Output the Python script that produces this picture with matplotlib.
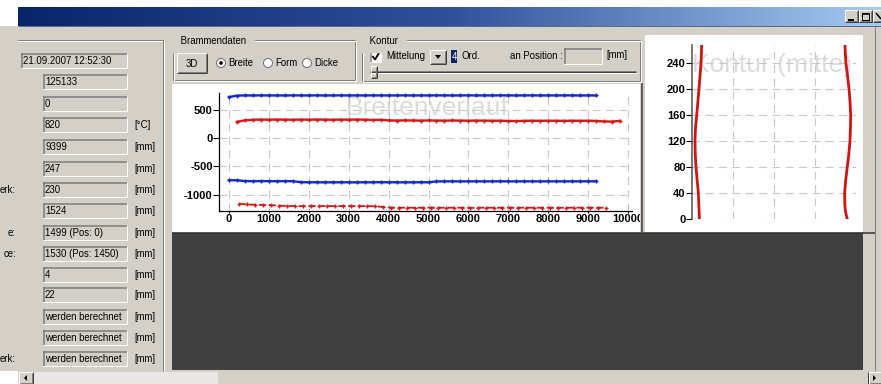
import numpy as np
import matplotlib
matplotlib.use("Agg")
import matplotlib.pyplot as plt
from matplotlib.patches import Rectangle, Circle, Polygon
from matplotlib.colors import LinearSegmentedColormap
from matplotlib.transforms import Bbox, TransformedBbox

plt.rcParams['font.family'] = ['Liberation Sans', 'DejaVu Sans']
plt.rcParams['axes.unicode_minus'] = False

# ---------------- data ----------------
field_values = ["21.09.2007 12:52:30", "125133", "0", "820", "9399", "247", "230",
                "1524", "1499 (Pos: 0)", "1530 (Pos: 1450)", "4", "22",
                "werden berechnet", "werden berechnet", "werden berechnet"]
field_units = ["", "", "", "[\u00b0C]", "[mm]", "[mm]", "[mm]", "[mm]", "[mm]", "[mm]",
               "[mm]", "[mm]", "[mm]", "[mm]", "[mm]"]
field_labels = ["", "", "", "", "", "", "erk:", "", "e:", "ce:", "", "", "", "", "erk:"]

breite_title = "Breitenverlauf"
kontur_title = "Kontur (mitte)"

x_ticks1 = [0, 1000, 2000, 3000, 4000, 5000, 6000, 7000, 8000, 9000, 10000]
y_ticks1 = [-1000, -500, 0, 500]

# upper blue edge (start 0, step 200)
blue_top = [722, 748, 751, 750, 752, 750, 751, 750, 752, 751, 750, 752, 750, 751, 752, 750,
            751, 750, 752, 751, 750, 751, 752, 750, 751, 750, 752, 751, 750, 751, 752, 750,
            751, 750, 752, 751, 750, 751, 752, 750, 751, 750, 752, 751, 750, 751, 750]
# upper red edge (start 200, step 200)
red_top = [285, 312, 322, 325, 323, 326, 324, 322, 325, 323,
           326, 324, 322, 325, 323, 326, 324, 318, 322, 310,
           308, 311, 309, 307, 310, 308, 306, 309, 307, 305,
           308, 306, 304, 306, 300, 298, 302, 305, 303, 306,
           304, 302, 305, 303, 306, 300, 292, 290, 302]
# lower blue edge (start 0, step 200)
blue_bot = [-745, -746, -760, -762, -761, -762, -763, -761, -762,
            -780, -782, -781, -783, -782, -781, -782, -783, -781, -782, -780, -782, -781,
            -783, -782, -781, -782, -766,
            -765, -764, -766, -765, -764, -766, -765, -764, -765, -766, -764, -765, -766,
            -764, -765, -766, -764, -765, -764, -765]
# lower red edge (start 250, step 200)
red_bot = [-1160, -1172, -1178, -1180, -1185, -1195, -1198, -1200, -1202, -1199,
           -1201, -1200, -1203, -1199, -1201, -1200, -1202, -1205, -1215, -1228,
           -1230, -1229, -1231, -1230, -1228, -1230, -1231, -1229, -1230, -1232,
           -1230, -1229, -1231, -1230, -1228, -1230, -1229, -1231, -1230, -1229,
           -1230, -1231, -1229, -1230, -1228, -1230, -1229]

kontur_y = [0, 10, 20, 40, 60, 80, 100, 120, 140, 160, 180, 200, 220, 240, 255, 266]
kontur_left = [-728, -730, -733, -738, -750, -761, -768, -771, -766, -754, -743, -732,
               -722, -712, -708, -706]
kontur_right = [715, 699, 692, 689, 700, 715, 730, 741, 746, 748, 742, 732, 718, 702,
                696, 693]
y_ticks2 = [0, 40, 80, 120, 160, 200, 240]

# ---------------- figure ----------------
W, H = 881, 384
BG = '#d4d0c8'
fig = plt.figure(figsize=(W / 100, H / 100), dpi=100)
ax = fig.add_axes([0, 0, 1, 1])
ax.set_xlim(0, W)
ax.set_ylim(H, 0)
ax.axis('off')

PX = 0.72  # 1 pixel in points


def rect(x0, y0, x1, y1, fc, ec='none', lw=0, z=1):
    p = Rectangle((x0, y0), x1 - x0, y1 - y0, facecolor=fc, edgecolor=ec, lw=lw, zorder=z)
    ax.add_patch(p)
    return p


def line(xs, ys, c, lw=1, z=3):
    ax.plot(xs, ys, color=c, lw=lw * PX, zorder=z, solid_capstyle='butt')


def sunken(x0, y0, x1, y1, fc=BG):
    rect(x0, y0, x1, y1, fc, z=2)
    line([x0, x1], [y0 + 0.5, y0 + 0.5], '#7a7a7a', 1.5)
    line([x0 + 0.5, x0 + 0.5], [y0, y1], '#7a7a7a', 1.5)
    line([x0, x1], [y1, y1], '#ffffff')
    line([x1, x1], [y0, y1], '#ffffff')


def raised(x0, y0, x1, y1, fc=BG):
    rect(x0, y0, x1, y1, fc, z=2)
    line([x0, x1], [y0, y0], '#ffffff')
    line([x0, x0], [y0, y1], '#ffffff')
    line([x0, x1], [y1, y1], '#404040')
    line([x1, x1], [y0, y1], '#404040')
    line([x0 + 1, x1 - 1], [y1 - 1, y1 - 1], '#808080')
    line([x1 - 1, x1 - 1], [y0 + 1, y1 - 1], '#808080')


def etched_box(x0, y0, x1, y1):
    for off, c in ((0, '#808080'), (1, '#ffffff')):
        line([x0 + off, x1 + off], [y0 + off, y0 + off], c)
        line([x0 + off, x1 + off], [y1 + off, y1 + off], c)
        line([x0 + off, x0 + off], [y0 + off, y1 + off], c)
        line([x1 + off, x1 + off], [y0 + off, y1 + off], c)


def txt(x, y, s, size=6.9, color='black', ha='left', va='center', **kw):
    return ax.text(x, y, s, fontsize=size, color=color, ha=ha, va=va, zorder=6, **kw)


# background
rect(0, 0, W, H, BG, z=0)
rect(0, 0, W, 7, 'white', z=0.5)
rect(0, 0, 18, 26, 'white', z=0.5)

# title bar gradient
cmap = LinearSegmentedColormap.from_list('tb', ['#0a246a', '#30509a', '#a6caf0'])
ax.imshow(np.linspace(0, 1, 256)[None, :], extent=(18, W, 26, 7), cmap=cmap,
          aspect='auto', zorder=1)
ax.set_xlim(0, W)
ax.set_ylim(H, 0)
line([18, W], [25.5, 25.5], '#5a6a8a')
for bx in (845, 859, 873):
    raised(bx, 10, bx + 13, 22)
line([848, 854], [19.5, 19.5], 'black', 2)
rect(862, 12.5, 869, 19.5, 'none', ec='black', lw=1 * PX, z=4)
line([862, 869], [13.5, 13.5], 'black', 1.5)
line([876, 881], [13, 19], 'black', 1.5)

# left panel
line([18, 163], [40, 40], '#808080')
line([18, 163], [41, 41], '#ffffff')
line([163, 163], [40, 371], '#808080')
line([164, 164], [41, 371], '#ffffff')

row_tops = [53, 74, 96, 117, 139, 161, 182, 203, 225, 246, 267, 287, 309, 330, 351]
for i, top in enumerate(row_tops):
    x0 = 21 if i == 0 else 43
    sunken(x0, top, 127, top + 15)
    txt(x0 + 2, top + 8, field_values[i])
    if field_units[i]:
        txt(134, top + 8, field_units[i])
    if field_labels[i]:
        txt(16, top + 8, field_labels[i], ha='right')

# Brammendaten group
etched_box(173, 40, 355, 80)
txt(178, 41, " Brammendaten ", backgroundcolor=BG)
raised(177, 53, 207, 73)
txt(192, 64, "3D", ha='center')
for cx, lab, sel in ((221, "Breite", True), (268, "Form", False), (307, "Dicke", False)):
    ax.add_patch(Circle((cx, 63), 4.5, facecolor='white', edgecolor='#707070',
                        lw=1 * PX, zorder=4))
    if sel:
        ax.add_patch(Circle((cx, 63), 1.8, facecolor='black', zorder=5))
    txt(cx + 7, 63.5, lab)

# Kontur group
etched_box(362, 40, 640, 81)
txt(367, 41, " Kontur ", backgroundcolor=BG)
sunken(370, 51, 381, 62, fc='white')
line([372.5, 375, 379], [56, 59.5, 53], 'black', 1.8, z=5)
txt(386, 56, "Mittelung")
raised(430, 50, 446, 64)
ax.add_patch(Polygon([[435, 55], [441, 55], [438, 59]], closed=True, facecolor='black',
                     zorder=5))
rect(451, 50, 457, 63, '#0a246a', z=4)
txt(454, 56.5, "4", color='white', ha='center')
txt(461, 56, "Ord.")
txt(510, 56, "an Position :")
sunken(564, 48, 602, 64)
txt(606, 55, "[mm]")
line([370, 636], [71, 71], '#808080')
line([370, 636], [72, 72], '#404040')
line([370, 636], [73, 73], '#ffffff')
raised(371, 66, 377, 78)

# chart panels
panel1 = rect(172, 84, 640, 232, 'white', z=1)
line([641.5, 641.5], [83, 232], '#606060', 2)
panel2 = rect(645, 35, 863, 232, 'white', z=1)
rect(172, 233, 863, 370, '#404040', z=1)
line([172, 875], [233, 233], '#303030', 1.5)
line([875, 875], [26, 371], '#808080')

# scrollbar
rect(0, 371, 18, H, 'white', z=1)
rect(18, 372, W, H, BG, z=1)
rect(33, 372, 218, H, '#e9e7e3', z=1.5)
raised(19, 372, 33, 384)
ax.add_patch(Polygon([[24, 378], [27, 375], [27, 381]], closed=True, facecolor='black', zorder=5))
line([867.5, 867.5], [372, 384], '#404040')
raised(869, 372, 882, 384)
ax.add_patch(Polygon([[876, 378], [873, 375], [873, 381]], closed=True, facecolor='black', zorder=5))

# watermark titles
t1 = ax.text(427, 115, breite_title, fontsize=19, color='#dcdcdc', ha='center',
             va='baseline', zorder=1.5)
t2 = ax.text(692, 72, kontur_title, fontsize=19, color='#dcdcdc', ha='left',
             va='baseline', zorder=1.5)
t2.set_clip_path(panel2)

# ---------------- chart 1: Breitenverlauf ----------------
def fig_rect(l, t, r, b):
    return [l / W, (H - b) / H, (r - l) / W, (b - t) / H]


ax1 = fig.add_axes(fig_rect(219, 93, 632, 211))
ax1.patch.set_alpha(0)
x_bt = 200 * np.arange(len(blue_top))
x_rt = 200 + 200 * np.arange(len(red_top))
x_bb = 200 * np.arange(len(blue_bot))
x_rb = 250 + 200 * np.arange(len(red_bot))
ax1.plot(x_bt, blue_top, color='#1428c8', lw=1.7, marker='+', ms=3.5, mew=1.0)
ax1.plot(x_bb, blue_bot, color='#1428c8', lw=1.7, marker='+', ms=3.5, mew=1.0)
ax1.plot(x_rt, red_top, color='#d81818', lw=1.7, marker='+', ms=3.5, mew=1.0)
ax1.plot(x_rb, red_bot, color='#d81818', lw=1.3, ls=(0, (4, 1.5)), marker='+', ms=3.5, mew=1.0)
ax1.set_xlim(-251, 10100)
ax1.set_ylim(-1288, 794)
ax1.set_xticks(x_ticks1)
ax1.set_yticks(y_ticks1)
ax1.grid(True, color='#c8c8c8', lw=0.8, ls=(0, (7, 5)))
ax1.set_axisbelow(True)
for s in ('top', 'right'):
    ax1.spines[s].set_visible(False)
for s in ('left', 'bottom'):
    ax1.spines[s].set_color('black')
    ax1.spines[s].set_linewidth(0.9)
ax1.tick_params(axis='y', length=4, width=0.8, pad=0.5, labelsize=8)
ax1.tick_params(axis='x', length=1.5, width=0.8, pad=0.5, labelsize=8)
for lbl in ax1.get_xticklabels() + ax1.get_yticklabels():
    lbl.set_fontweight('bold')
clipbb = TransformedBbox(Bbox([[172 / W, (H - 232) / H], [640 / W, (H - 84) / H]]),
                         fig.transFigure)
for tk in ax1.xaxis.get_major_ticks():
    tk.label1.set_clip_box(clipbb)
    tk.label1.set_clip_on(True)

# ---------------- chart 2: Kontur ----------------
ax2 = fig.add_axes(fig_rect(692, 45, 856, 219))
ax2.patch.set_alpha(0)
ax2.plot(kontur_left, kontur_y, color='#d01414', lw=2.0)
ax2.plot(kontur_right, kontur_y, color='#d01414', lw=2.0)
ax2.set_xlim(-800, 800)
ax2.set_ylim(0, 268)
ax2.set_yticks(y_ticks2)
ax2.set_xticks([-400, 0, 400])
ax2.grid(True, color='#c8c8c8', lw=0.8, ls=(0, (7, 5)))
ax2.set_axisbelow(True)
for s in ('top', 'right', 'bottom'):
    ax2.spines[s].set_visible(False)
ax2.spines['left'].set_color('#505050')
ax2.spines['left'].set_linewidth(1.1)
ax2.tick_params(axis='x', length=0, labelbottom=False)
ax2.tick_params(axis='y', length=4, width=0.8, pad=0.5, labelsize=8)
for lbl in ax2.get_yticklabels():
    lbl.set_fontweight('bold')

fig.savefig('out.png', dpi=100)
